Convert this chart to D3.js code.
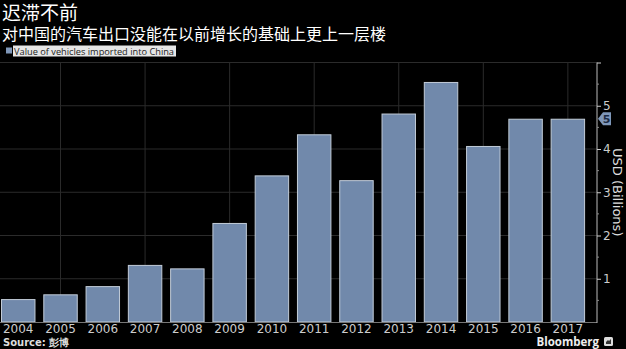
<!DOCTYPE html>
<html><head><meta charset="utf-8">
<script src="https://cdn.jsdelivr.net/npm/d3@7"></script>
<style>
html,body{margin:0;padding:0;background:#000;}
svg{display:block;}
</style></head>
<body>
<svg id="chart" width="626" height="349"></svg>
<script>
const years = ["2004","2005","2006","2007","2008","2009","2010","2011","2012","2013","2014","2015","2016","2017"];
const values = [0.53,0.64,0.83,1.32,1.24,2.29,3.39,4.34,3.28,4.82,5.55,4.07,4.70,4.70];
const yTicks = [1,2,3,4,5,6];
const yMinorTicks = [0.5,1.5,2.5,3.5,4.5,5.5];
const title = "迟滞不前";
const subtitle = "对中国的汽车出口没能在以前增长的基础上更上一层楼";
const legendLabel = "Value of vehicles imported into China";
const axisTitle = "USD (Billions)";
const sourceText = "Source: 彭博";

const svg = d3.select("#chart");
svg.append("rect").attr("width",626).attr("height",349).attr("fill","#000");

const x = d3.scaleBand().domain(years).range([-2.9, 589]).paddingInner(0.185).paddingOuter(0.0925);
const y = d3.scaleLinear().domain([0,6]).range([322, 62.5]);
const axisX = 597;

// horizontal gridlines
svg.append("g").selectAll("line").data(yTicks).join("line")
  .attr("x1",0).attr("x2",axisX).attr("y1",d=>y(d)).attr("y2",d=>y(d))
  .attr("stroke","#2b2b2b").attr("stroke-width",1);
// vertical gridlines at every other year
svg.append("g").selectAll("line").data(years.filter((d,i)=>i%2===1)).join("line")
  .attr("x1",d=>x(d)+x.bandwidth()/2).attr("x2",d=>x(d)+x.bandwidth()/2)
  .attr("y1",y(6)).attr("y2",y(0))
  .attr("stroke","#2b2b2b").attr("stroke-width",1);

// bars
svg.append("g").selectAll("rect").data(values).join("rect")
  .attr("x",(d,i)=>x(years[i])+0.5)
  .attr("y",d=>y(d)+0.5)
  .attr("width",x.bandwidth()-1)
  .attr("height",d=>y(0)-y(d)-0.5)
  .attr("fill","#7189ab")
  .attr("stroke","#c2ccd8").attr("stroke-width",1);

// baseline
svg.append("line").attr("x1",0).attr("x2",axisX).attr("y1",y(0)+0.5).attr("y2",y(0)+0.5)
  .attr("stroke","#777").attr("stroke-width",1);

// y axis
const yAxis = d3.axisRight(y).tickValues(yTicks).tickSize(4).tickPadding(2)
  .tickFormat(d=> d===6 ? "" : d3.format("d")(d));
const ga = svg.append("g").attr("transform",`translate(${axisX},0)`).call(yAxis);
ga.select(".domain").attr("stroke","#bbb").attr("d",`M0,${y(6)}V${y(0)+1}`);
ga.selectAll(".tick line").attr("stroke","#ccc");
ga.selectAll(".tick text").attr("fill","#ccc").attr("font-family","DejaVu Sans, sans-serif").attr("font-size",12);
svg.append("g").attr("transform",`translate(${axisX},0)`).selectAll("line").data(yMinorTicks).join("line")
  .attr("x1",0).attr("x2",2).attr("y1",d=>y(d)).attr("y2",d=>y(d)).attr("stroke","#888");

// axis title
svg.append("text").attr("transform",`translate(613,${(y(6)+y(0))/2}) rotate(90)`)
  .attr("text-anchor","middle").attr("fill","#ddd")
  .attr("font-family","DejaVu Sans, sans-serif").attr("font-size",13).text(axisTitle);

// last value marker
const lastV = values[values.length-1];
const ly = y(lastV);
svg.append("path")
  .attr("d",`M598,${ly} L603,${ly-6.5} L611,${ly-6.5} L611,${ly+6.5} L603,${ly+6.5} Z`)
  .attr("fill","#7f97b9");
svg.append("text").attr("x",606.5).attr("y",ly+4).attr("text-anchor","middle")
  .attr("fill","#1b2a44").attr("font-family","DejaVu Sans, sans-serif").attr("font-size",11)
  .attr("font-weight","bold").text(d3.format(".0f")(lastV));

// x labels
svg.append("g").selectAll("text").data(years).join("text")
  .attr("x",d=>x(d)+x.bandwidth()/2).attr("y",332.5)
  .attr("text-anchor","middle").attr("fill","#ccc")
  .attr("font-family","DejaVu Sans, sans-serif").attr("font-size",12).text(d=>d);

// titles
svg.append("text").attr("x",2).attr("y",20).attr("fill","#fff")
  .attr("font-family","Noto Sans CJK SC, sans-serif").attr("font-size",19).text(title);
svg.append("text").attr("x",2).attr("y",40).attr("fill","#fff")
  .attr("font-family","Noto Sans CJK SC, sans-serif").attr("font-size",16).text(subtitle);

// legend
svg.append("rect").attr("x",6).attr("y",47.5).attr("width",6).attr("height",6).attr("fill","#7f97b9");
svg.append("rect").attr("x",13).attr("y",45.5).attr("width",163).attr("height",11).attr("fill","#e6e6e6");
svg.append("text").attr("x",14).attr("y",54.5).attr("fill","#222")
  .attr("font-family","Open Sans, sans-serif").attr("font-size",9.5)
  .attr("textLength",160).attr("lengthAdjust","spacingAndGlyphs").text(legendLabel);

// source
svg.append("text").attr("x",3).attr("y",345.5).attr("fill","#ddd")
  .attr("font-family","DejaVu Sans, sans-serif").attr("font-size",10).attr("font-weight","bold").text(sourceText);

// Bloomberg logo
svg.append("text").attr("x",599).attr("y",345.5).attr("text-anchor","end").attr("fill","#eee")
  .attr("font-family","Open Sans, sans-serif").attr("font-size",11.5).attr("font-weight","bold").text("Bloomberg");
svg.append("rect").attr("x",604).attr("y",337).attr("width",9).attr("height",9).attr("rx",1.5).attr("fill","#ddd");
svg.append("path").attr("d","M606,344 L606,342 L608,340 L609,341 L611,339 L611,344 Z").attr("fill","#333");
</script>
</body></html>
